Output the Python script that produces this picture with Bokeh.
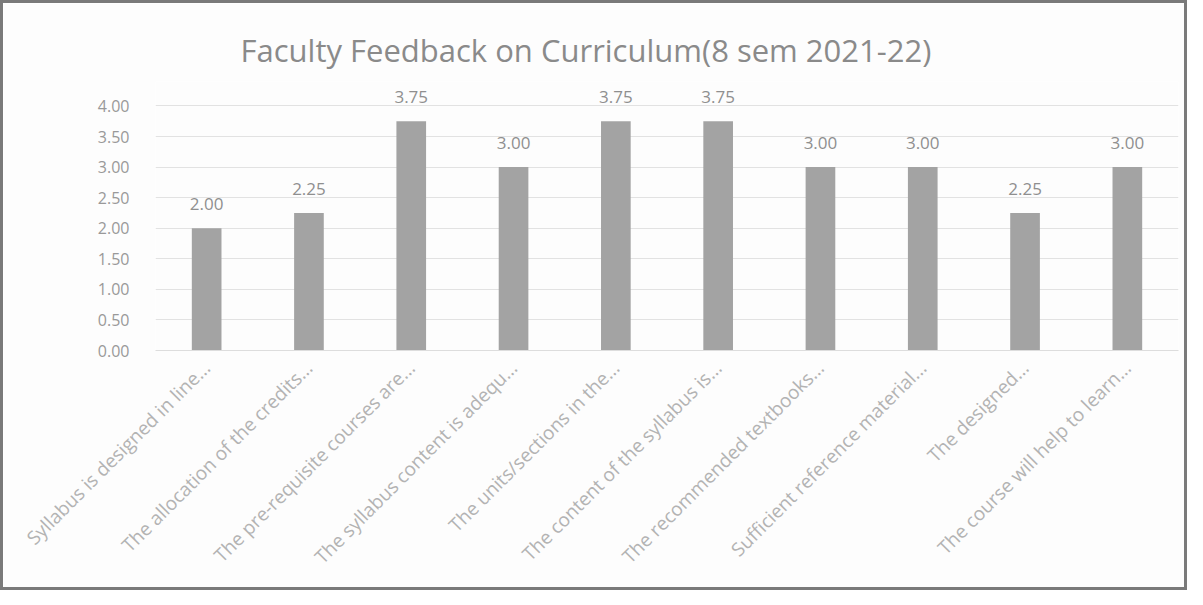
import math
from bokeh.plotting import figure
from bokeh.models import ColumnDataSource, LabelSet, FixedTicker, PrintfTickFormatter
from bokeh.core.properties import value
from bokeh.embed import file_html
from bokeh.resources import INLINE

categories = [
    "Syllabus is designed in line...",
    "The allocation of the credits...",
    "The pre-requisite courses are...",
    "The syllabus content is adequ...",
    "The units/sections in the...",
    "The content of the syllabus is...",
    "The recommended textbooks...",
    "Sufficient reference material...",
    "The designed...",
    "The course will help to learn...",
]
values = [2.00, 2.25, 3.75, 3.00, 3.75, 3.75, 3.00, 3.00, 2.25, 3.00]
value_labels = ["%.2f" % v for v in values]
y_ticks = [0.0, 0.5, 1.0, 1.5, 2.0, 2.5, 3.0, 3.5, 4.0]

src = ColumnDataSource(dict(cat=categories, val=values, lab=value_labels))

FONT = "Open Sans"

p = figure(x_range=categories, y_range=(0, 4.4), width=1187, height=590,
           output_backend="svg", toolbar_location=None,
           min_border_left=152, min_border_right=12, min_border_top=78,
           min_border_bottom=243)
p.title.text = "Faculty Feedback on Curriculum(8 sem 2021-22)"
p.title.align = "left"
p.title.offset = 85
p.title.text_font = FONT
p.title.text_font_size = "31px"
p.title.text_font_style = "normal"
p.title.text_color = "#8a8a8a"
p.title.standoff = 22

p.vbar(x="cat", top="val", width=0.29, source=src, fill_color="#a3a3a3", line_color=None)

labels = LabelSet(x="cat", y="val", text="lab", source=src, text_align="center",
                  text_baseline="bottom", y_offset=18, text_font_size="17px",
                  text_color="#8f8f8f", text_font=value(FONT))
p.add_layout(labels)

p.yaxis.ticker = FixedTicker(ticks=y_ticks)
p.yaxis.formatter = PrintfTickFormatter(format="%.2f")
p.yaxis.axis_line_color = None
p.yaxis.major_tick_line_color = None
p.yaxis.minor_tick_line_color = None
p.yaxis.major_label_text_font = FONT
p.yaxis.major_label_text_font_size = "16px"
p.yaxis.major_label_text_color = "#999999"
p.yaxis.major_label_standoff = 20

p.xaxis.axis_line_color = "#dddddd"
p.xaxis.major_tick_line_color = None
p.xaxis.minor_tick_line_color = None
p.xaxis.major_label_orientation = math.pi / 4
p.xaxis.major_label_text_font = FONT
p.xaxis.major_label_text_font_size = "19px"
p.xaxis.major_label_text_color = "#b3b3b3"
p.xaxis.major_label_standoff = 8

p.xgrid.grid_line_color = None
p.ygrid.grid_line_color = "#e2e2e2"
p.outline_line_color = None
p.background_fill_color = "#fdfdfd"
p.border_fill_color = "#fdfdfd"
p.x_range.range_padding = 0.0
p.styles = {"border": "3px solid #7a7a7a", "box-sizing": "border-box"}

open("out.html", "w").write(file_html(p, INLINE))
